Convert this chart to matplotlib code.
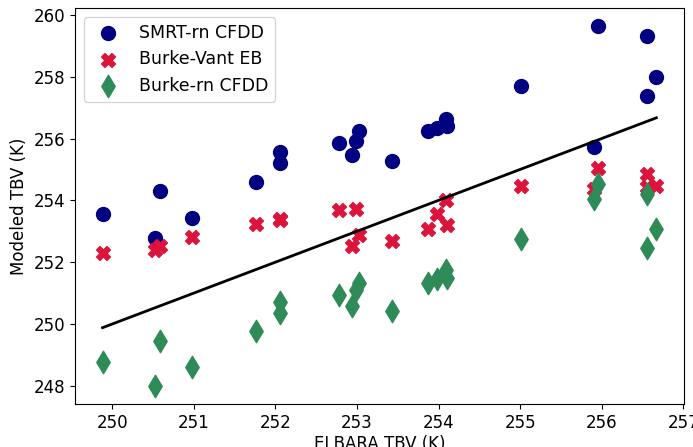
import numpy as np
import matplotlib
matplotlib.use("Agg")
import matplotlib.pyplot as plt

# ELBARA observed TBV (K), shared by all three model runs
elbara = [249.88, 250.52, 250.58, 250.98, 251.76, 252.06, 252.06, 252.78,
          252.94, 252.99, 253.02, 253.43, 253.87, 253.98, 254.09, 254.10,
          255.01, 255.95, 255.91, 256.56, 256.56, 256.67]

# Modeled TBV (K)
smrt_rn = [253.56, 252.78, 254.30, 253.43, 254.60, 255.57, 255.21, 255.86,
           255.47, 255.92, 256.25, 255.27, 256.25, 256.34, 256.63, 256.41,
           257.70, 259.64, 255.73, 259.32, 257.38, 257.99]
burke_vant = [252.29, 252.40, 252.53, 252.81, 253.25, 253.40, 253.35, 253.69,
              252.52, 253.72, 252.88, 252.68, 253.06, 253.55, 254.01, 253.20,
              254.45, 255.05, 254.38, 254.84, 254.44, 254.47]
burke_rn = [248.78, 247.99, 249.46, 248.62, 249.78, 250.72, 250.37, 250.94,
            250.58, 251.10, 251.34, 250.43, 251.32, 251.45, 251.75, 251.48,
            252.75, 254.52, 254.04, 254.20, 252.47, 253.06]

plt.rcParams['font.size'] = 12

fig = plt.figure(figsize=(6.93, 4.47), dpi=100)
ax = fig.add_axes([0.108, 0.096, 0.879, 0.886])

ax.scatter(elbara, smrt_rn, s=100, marker='o', color='navy', label='SMRT-rn CFDD')
ax.scatter(elbara, burke_vant, s=100, marker='X', color='crimson', label='Burke-Vant EB')
ax.scatter(elbara, burke_rn, s=130, marker='d', color='seagreen', label='Burke-rn CFDD')

# 1:1 line over the observed range
lo, hi = min(elbara), max(elbara)
ax.plot([lo, hi], [lo, hi], color='black', linewidth=2)

ax.set_xticks(np.arange(250, 258, 1))
ax.set_yticks(np.arange(248, 261, 2))
ax.set_xlabel('ELBARA TBV (K)', labelpad=2)
ax.set_ylabel('Modeled TBV (K)')
ax.legend(loc='upper left', fontsize=12.5)

fig.savefig('out.png', dpi=100)
